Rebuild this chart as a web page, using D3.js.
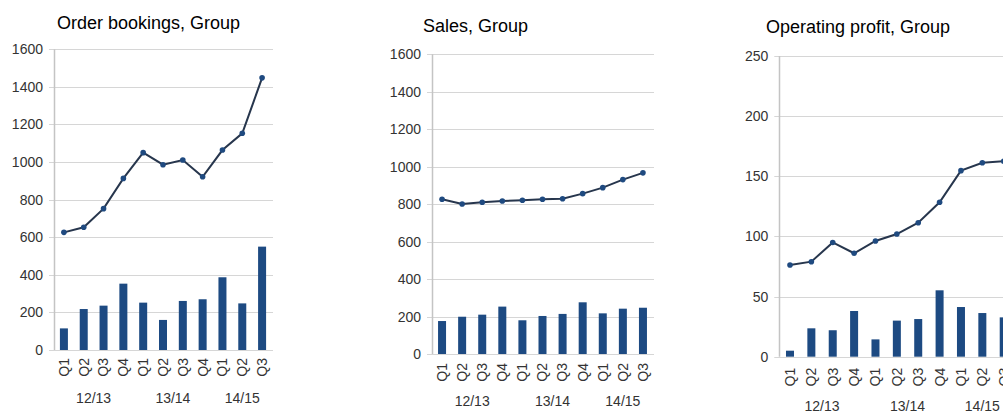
<!DOCTYPE html>
<html><head><meta charset="utf-8">
<script src="https://cdn.jsdelivr.net/npm/d3@7"></script>
<style>body{margin:0;background:#fff}svg{display:block}</style>
</head><body>
<svg id="c" width="1003" height="412"></svg>
<script>
const quarters = ["Q1","Q2","Q3","Q4","Q1","Q2","Q3","Q4","Q1","Q2","Q3"];
const years = ["12/13","12/13","12/13","12/13","13/14","13/14","13/14","13/14","14/15","14/15","14/15"];
const yearLabels = ["12/13","13/14","14/15"];

const titles = ["Order bookings, Group","Sales, Group","Operating profit, Group"];

const ordersBars = [115,218,236,353,252,160,261,270,387,248,550];
const ordersLine = [626,653,752,913,1050,986,1011,922,1064,1153,1448];
const salesBars = [176,199,210,253,180,203,214,276,217,242,247];
const salesLine = [826,801,810,817,821,826,829,856,888,931,967];
const profitBars = [5,23.6,22,38,14.4,30,31.3,55.2,41.3,36.3,32.7];
const profitLine = [76.2,79,95,86,96.2,102,111.4,128.4,154.7,161.3,162.5];

const ordersTicks = [0,200,400,600,800,1000,1200,1400,1600];
const salesTicks = [0,200,400,600,800,1000,1200,1400,1600];
const profitTicks = [0,50,100,150,200,250];

const panels = [
  {title:titles[0], bars:ordersBars, line:ordersLine, ticks:ordersTicks, max:1600,
   x0:54, x1:272, y0:350, yTop:49.3, tx:57, ty:29, gridEnd:273, qOff:8, yl:403},
  {title:titles[1], bars:salesBars, line:salesLine, ticks:salesTicks, max:1600,
   x0:432, x1:653, y0:354, yTop:54.3, tx:423, ty:32, gridEnd:654, qOff:9, yl:406},
  {title:titles[2], bars:profitBars, line:profitLine, ticks:profitTicks, max:250,
   x0:779.3, x1:1014.4, y0:356.7, yTop:56, tx:766, ty:33, gridEnd:1003, qOff:11, yl:411}
];

const svg = d3.select("#c");
const font = "'Liberation Sans', Arial, sans-serif";
const barColor = "#1d4a82";
const lineColor = "#27364d";
const dotColor = "#1f4a80";

panels.forEach(p => {
  const g = svg.append("g");
  const idx = d3.range(quarters.length);
  const x = d3.scaleBand().domain(idx).range([p.x0, p.x1]).paddingInner(0.6).paddingOuter(0.3);
  const y = d3.scaleLinear().domain([0, p.max]).range([p.y0, p.yTop]);
  const cx = i => x(i) + x.bandwidth()/2;

  g.append("text").attr("x", p.tx).attr("y", p.ty).attr("font-family", font)
    .attr("font-size", 18).attr("fill", "#000").text(p.title);

  // y axis with gridlines
  const yAxis = d3.axisLeft(y).tickValues(p.ticks).tickSize(0).tickPadding(11).tickFormat(d3.format("d"));
  const ya = g.append("g").attr("transform", `translate(${p.x0},0)`).call(yAxis);
  ya.select(".domain").remove();
  ya.selectAll("text").attr("font-family", font).attr("font-size", 14).attr("fill", "#333");

  g.append("g").selectAll("line").data(p.ticks).join("line")
    .attr("x1", p.x0 - 5).attr("x2", p.gridEnd)
    .attr("y1", d => Math.round(y(d)) + 0.5).attr("y2", d => Math.round(y(d)) + 0.5)
    .attr("stroke", "#d6d6d6").attr("stroke-width", 1.2);

  g.append("line").attr("x1", Math.round(p.x0)+0.5).attr("x2", Math.round(p.x0)+0.5)
    .attr("y1", p.yTop).attr("y2", p.y0).attr("stroke", "#c4c4c4").attr("stroke-width", 1.5);

  // bars
  g.append("g").selectAll("rect").data(p.bars).join("rect")
    .attr("x", (d,i) => cx(i) - 4).attr("width", 8)
    .attr("y", d => y(d)).attr("height", d => p.y0 - y(d))
    .attr("fill", barColor);

  // line
  const lineGen = d3.line().x((d,i) => cx(i)).y(d => y(d));
  g.append("path").datum(p.line).attr("d", lineGen).attr("fill", "none")
    .attr("stroke", lineColor).attr("stroke-width", 2);
  g.append("g").selectAll("circle").data(p.line).join("circle")
    .attr("cx", (d,i) => cx(i)).attr("cy", d => y(d)).attr("r", 2.8).attr("fill", dotColor);

  // x axis quarter labels
  const xAxis = d3.axisBottom(x).tickSize(0).tickFormat(i => quarters[i]);
  const xa = g.append("g").attr("transform", `translate(0,${p.y0})`).call(xAxis);
  xa.select(".domain").remove();
  xa.selectAll("text").attr("font-family", font).attr("font-size", 14).attr("fill", "#333")
    .attr("transform", `rotate(-90)`).attr("text-anchor", "end")
    .attr("x", -p.qOff).attr("y", 0).attr("dy", "0.35em");

  // year labels
  yearLabels.forEach(yr => {
    const ids = idx.filter(i => years[i] === yr);
    const c = d3.mean(ids, cx);
    g.append("text").attr("x", c).attr("y", p.yl).attr("text-anchor", "middle")
      .attr("font-family", font).attr("font-size", 14).attr("fill", "#333").text(yr);
  });
});
</script>
</body></html>
